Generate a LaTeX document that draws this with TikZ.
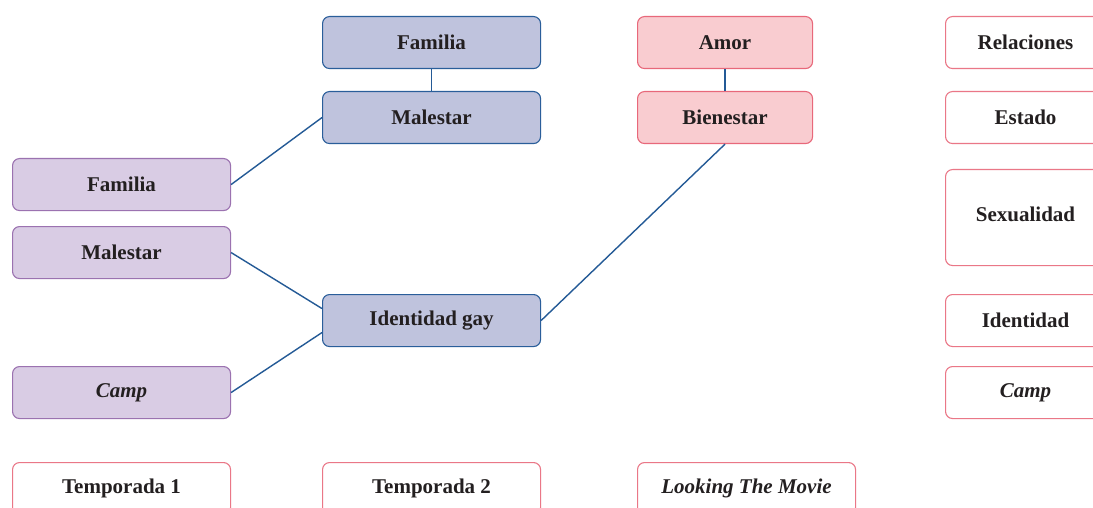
\documentclass[tikz,border=0pt]{standalone}
\usepackage{fontspec}
\setmainfont{Liberation Serif}
\definecolor{bluefill}{HTML}{BFC3DD}
\definecolor{blueline}{HTML}{2A5E9A}
\definecolor{purfill}{HTML}{D9CCE4}
\definecolor{purline}{HTML}{9B72B0}
\definecolor{pinkfill}{HTML}{F9CCD0}
\definecolor{pinkline}{HTML}{E8687A}
\definecolor{conn}{HTML}{245A96}
\definecolor{txt}{HTML}{231F20}
\tikzset{
  box/.style={rectangle, rounded corners=7pt, line width=1.1pt, anchor=north west,
    inner sep=0pt, text=txt, font=\fontsize{21}{24}\selectfont\bfseries},
  bluebox/.style={box, draw=blueline, fill=bluefill},
  purbox/.style={box, draw=purline, fill=purfill},
  pinkbox/.style={box, draw=pinkline, fill=pinkfill},
  whitebox/.style={box, draw=pinkline!90, fill=white},
  conline/.style={draw=conn, line width=1.4pt},
}
\begin{document}
\begin{tikzpicture}[x=1pt,y=-1pt]
\clip (0,0) rectangle (1093,508);
\fill[white] (0,0) rectangle (1093,508);
% left column
\node[purbox, minimum width=218pt, minimum height=52pt] (lfam) at (12,158) {Familia};
\node[purbox, minimum width=218pt, minimum height=52pt] (lmal) at (12,226) {Malestar};
\node[purbox, minimum width=218pt, minimum height=52pt] (lcamp) at (12,366) {\itshape Camp};
% middle column
\node[bluebox, minimum width=218pt, minimum height=52pt] (mfam) at (322,16) {Familia};
\node[bluebox, minimum width=218pt, minimum height=52pt] (mmal) at (322,91) {Malestar};
\node[bluebox, minimum width=218pt, minimum height=52pt] (mid) at (322,294) {Identidad gay};
% pink column
\node[pinkbox, minimum width=175pt, minimum height=52pt] (amor) at (637,16) {Amor};
\node[pinkbox, minimum width=175pt, minimum height=52pt] (bien) at (637,91) {Bienestar};
% right column
\node[whitebox, minimum width=160pt, minimum height=52pt] (rrel) at (945,16) {Relaciones};
\node[whitebox, minimum width=160pt, minimum height=52pt] (rest) at (945,91) {Estado};
\node[whitebox, minimum width=160pt, minimum height=96pt] (rsex) at (945,169) {\raisebox{7pt}{Sexualidad}};
\node[whitebox, minimum width=160pt, minimum height=52pt] (rid) at (945,294) {Identidad};
\node[whitebox, minimum width=160pt, minimum height=52pt] (rcamp) at (945,366) {\itshape Camp};
% bottom row
\node[whitebox, minimum width=218pt, minimum height=52pt] (t1) at (12,462) {\raisebox{-2pt}{Temporada 1}};
\node[whitebox, minimum width=218pt, minimum height=52pt] (t2) at (322,462) {\raisebox{-2pt}{Temporada 2}};
\node[whitebox, minimum width=218pt, minimum height=52pt] (movie) at (637,462) {\raisebox{-2pt}{\itshape Looking The Movie}};
% connectors
\draw[conline] (mfam.south) -- (mmal.north);
\draw[conline] (amor.south) -- (bien.north);
\draw[conline] (lfam.east) -- (mmal.west);
\draw[conline] (lmal.east) -- ([yshift=12pt]mid.west);
\draw[conline] (lcamp.east) -- ([yshift=-12pt]mid.west);
\draw[conline] (mid.east) -- (bien.south);
\end{tikzpicture}
\end{document}
